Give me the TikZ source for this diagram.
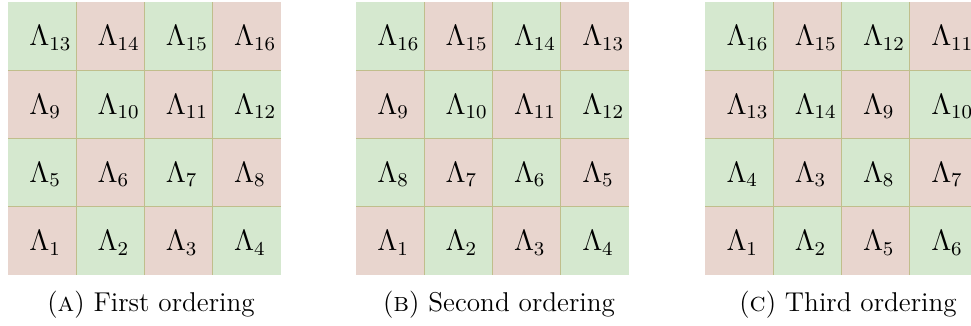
\documentclass[tikz,border=0pt]{standalone}
\definecolor{cellg}{RGB}{213,232,207}
\definecolor{cellr}{RGB}{232,213,206}
\definecolor{cellline}{RGB}{192,190,140}
\tikzset{
  cellbox/.style={draw=none},
  sepline/.style={draw=cellline,line width=0.45pt},
  lab/.style={anchor=west,inner sep=0pt,font=\fontsize{12}{14}\selectfont},
  captext/.style={anchor=base,inner sep=0pt,font=\fontsize{11.1}{13}\selectfont}
}
\newcommand\drawgrid[3]{%
  \foreach \lab [count=\k from 0] in {#3} {
    \pgfmathtruncatemacro\colI{mod(\k,4)}
    \pgfmathtruncatemacro\rowI{int(\k/4)}
    \pgfmathtruncatemacro\parI{mod(\colI+\rowI,2)}
    \ifnum\parI=1 \def\fc{cellr}\else\def\fc{cellg}\fi
    \path[cellbox,fill=\fc] (#2+\colI*68.25, 2+\rowI*68.25) rectangle ++(68.25,68.25);
    \node[lab] (#1-\colI-\rowI) at (#2+\colI*68.25+21, 2+\rowI*68.25+36) {$\Lambda_{\lab}$};
  }
  \foreach \t in {1,2,3} {
    \draw[sepline] (#2+\t*68.25, 2) -- (#2+\t*68.25, 275);
    \draw[sepline] (#2, 2+\t*68.25) -- (#2+273, 2+\t*68.25);
  }
}
\begin{document}
\begin{tikzpicture}[x=0.408pt,y=-0.408pt]
\useasboundingbox (0,0) rectangle (971,325);
\drawgrid{A}{8}{13,14,15,16,9,10,11,12,5,6,7,8,1,2,3,4}
\drawgrid{B}{356}{16,15,14,13,9,10,11,12,8,7,6,5,1,2,3,4}
\drawgrid{C}{705}{16,15,12,11,13,14,9,10,4,3,8,7,1,2,5,6}
\node[captext] (capA) at (151,311) {(\textsc{a})\ First ordering};
\node[captext] (capB) at (499,311) {(\textsc{b})\ Second ordering};
\node[captext] (capC) at (848,311) {(\textsc{c})\ Third ordering};
\end{tikzpicture}
\end{document}
